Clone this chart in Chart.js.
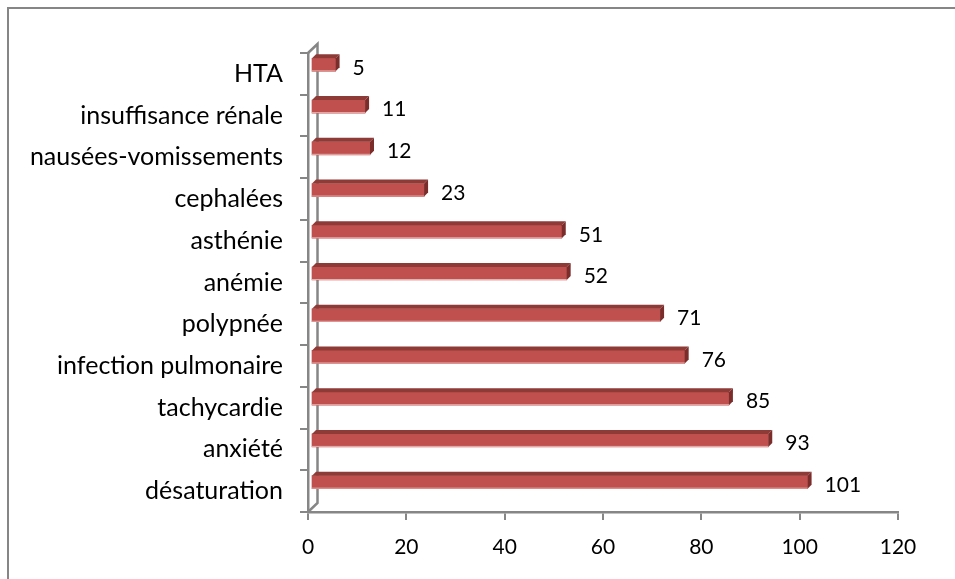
<!DOCTYPE html>
<html>
<head>
<meta charset="utf-8">
<script src="https://cdn.jsdelivr.net/npm/chart.js@4.4.0/dist/chart.umd.min.js"></script>
<style>
  html, body { margin: 0; padding: 0; background: #fff; }
  #wrap { width: 955px; height: 579px; }
</style>
</head>
<body>
<div id="wrap"><canvas id="chart" width="955" height="579"></canvas></div>
<script>
var categories = ['HTA', 'insuffisance rénale', 'nausées-vomissements', 'cephalées', 'asthénie',
    'anémie', 'polypnée', 'infection pulmonaire', 'tachycardie', 'anxiété', 'désaturation'];
var values = [5, 11, 12, 23, 51, 52, 71, 76, 85, 93, 101];
var xTicks = [0, 20, 40, 60, 80, 100, 120];

var axisGrey = '#868686';
var fontName = 'Lato, "Open Sans", sans-serif';

// fake excel 3d look: shift the bars a bit back and add top / side faces
var depth = 4;
var shiftX = 3, shiftY = -9;

var bar3d = {
    id: 'bar3d',
    beforeDraw: function (chart) {
        var ctx = chart.ctx;
        ctx.save();
        ctx.strokeStyle = axisGrey;
        ctx.lineWidth = 2;
        ctx.beginPath();
        ctx.moveTo(8, 579);
        ctx.lineTo(8, 8);
        ctx.lineTo(955, 8);
        ctx.stroke();
        ctx.restore();
    },
    beforeDatasetsDraw: function (chart) {
        var ctx = chart.ctx;
        var a = chart.chartArea;
        // back wall
        ctx.save();
        ctx.strokeStyle = axisGrey;
        ctx.lineWidth = 2.5;
        ctx.beginPath();
        ctx.moveTo(a.left, a.top);
        ctx.lineTo(a.left + 9.5, a.top - 9);
        ctx.lineTo(a.left + 9.5, a.bottom - 9);
        ctx.lineTo(a.left, a.bottom);
        ctx.stroke();
        ctx.restore();

        ctx.save();
        ctx.translate(shiftX, shiftY);
    },
    afterDatasetsDraw: function (chart) {
        var ctx = chart.ctx;
        chart.getDatasetMeta(0).data.forEach(function (bar) {
            var x0 = bar.base, x1 = bar.x;
            var top = bar.y - bar.height / 2, bot = bar.y + bar.height / 2;
            ctx.fillStyle = '#8e3a37';
            ctx.beginPath();
            ctx.moveTo(x0, top);
            ctx.lineTo(x0 + depth, top - depth);
            ctx.lineTo(x1 + depth, top - depth);
            ctx.lineTo(x1, top);
            ctx.closePath();
            ctx.fill();
            ctx.fillStyle = '#7a2d2b';
            ctx.beginPath();
            ctx.moveTo(x1, top);
            ctx.lineTo(x1 + depth, top - depth);
            ctx.lineTo(x1 + depth, bot - depth);
            ctx.lineTo(x1, bot);
            ctx.closePath();
            ctx.fill();
            ctx.fillStyle = '#e6b0ae';
            ctx.fillRect(x0, bot - 1, x1 - x0, 1);
        });
        ctx.restore();

        // value labels
        ctx.save();
        ctx.font = '21px ' + fontName;
        ctx.fillStyle = '#000';
        ctx.textAlign = 'left';
        ctx.textBaseline = 'middle';
        chart.getDatasetMeta(0).data.forEach(function (bar, i) {
            ctx.fillText(values[i], bar.x + 20, bar.y - 6);
        });
        ctx.restore();
    }
};

new Chart(document.getElementById('chart'), {
    type: 'bar',
    data: {
        labels: categories,
        datasets: [{
            data: values,
            backgroundColor: '#c0504d',
            borderWidth: 0,
            barThickness: 13
        }]
    },
    options: {
        indexAxis: 'y',
        responsive: false,
        animation: false,
        layout: { padding: { top: 53, right: 57, left: 0, bottom: 0 } },
        plugins: {
            legend: { display: false },
            tooltip: { enabled: false }
        },
        scales: {
            x: {
                min: 0,
                max: 120,
                afterBuildTicks: function (scale) {
                    scale.ticks = xTicks.map(function (v) { return { value: v }; });
                },
                afterFit: function (scale) { scale.height = 67; },
                grid: { drawOnChartArea: false, drawTicks: true, tickLength: 8, color: axisGrey, lineWidth: 2 },
                border: { color: axisGrey, width: 2.5 },
                ticks: { color: '#000', padding: 15, font: { family: fontName, size: 21 } }
            },
            y: {
                afterFit: function (scale) { scale.width = 308; },
                grid: { drawOnChartArea: false, drawTicks: true, tickLength: 8, color: axisGrey, lineWidth: 2 },
                border: { color: axisGrey, width: 2.5 },
                ticks: { color: '#000', padding: 17, font: { family: fontName, size: 25 } }
            }
        }
    },
    plugins: [bar3d]
});
</script>
</body>
</html>
